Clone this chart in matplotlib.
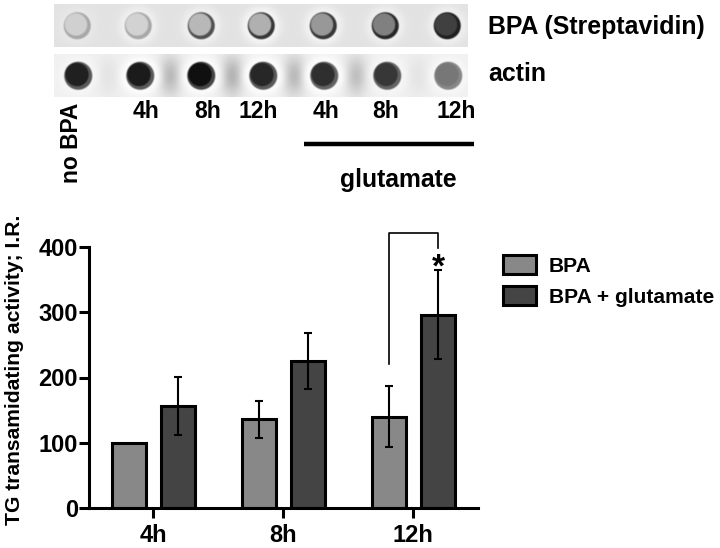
import numpy as np
import matplotlib
matplotlib.use('Agg')
import matplotlib.pyplot as plt
from matplotlib.patches import Patch

plt.rcParams['font.family'] = ['Liberation Sans', 'DejaVu Sans']
plt.rcParams['font.weight'] = 'bold'

groups = ['4h', '8h', '12h']
tick_pos = [1, 2, 3]
bpa = [100, 137, 140]
bpa_low = [100, 108, 94]
bpa_high = [100, 164, 187]
glu = [157, 226, 296]
glu_low = [112, 183, 229]
glu_high = [201, 268, 364]
yticks = [0, 100, 200, 300, 400]

# blot dots (grey levels)
top_x = [77, 138, 201, 261, 323, 385, 447]
top_fill = [208, 210, 184, 176, 152, 128, 64]
top_ring = [168, 168, 80, 56, 56, 40, 32]
top_halo = [0.2, 0.5, 0.5, 0.7, 0.6, 0.5, 0.5]
act_x = [78, 140, 201, 263, 324, 387, 448]
act_fill = [32, 28, 16, 40, 48, 56, 120]
act_ring = [90, 90, 70, 90, 100, 100, 136]
act_halo = [0.5, 1.0, 0.9, 1.0, 1.0, 0.5, 0.6]
act_smudge_x = [108, 170, 232, 294, 356, 418]
act_smudge = [0.1, 0.45, 0.5, 0.45, 0.4, 0.1]
lane_labels = ['4h', '8h', '12h', '4h', '8h', '12h']
lane_x = [146, 208, 258, 326, 386, 456]


def blot(x0, x1, y0, y1, bg, xs, fills, rings, halos, radius, smudge_x=(), smudge=()):
    gx, gy = np.meshgrid(np.arange(x0, x1, 0.5), np.arange(y0, y1, 0.5))
    img = np.full(gx.shape, float(bg))
    cy = (y0 + y1) / 2
    for sx, s in zip(smudge_x, smudge):
        w = s * np.exp(-((gx - sx) / 11.0) ** 2 - ((gy - cy) / 20.0) ** 2)
        img = img * (1 - w) + 120 * w
    for x, f, r, h in zip(xs, fills, rings, halos):
        d = np.hypot(gx - x, gy - cy)
        w = h * np.exp(-(np.clip(d - radius, 0, None) / 7.0) ** 2)
        img = img * (1 - w) + 252 * w
        inside = np.clip((radius - d) / 1.5 + 0.5, 0, 1)
        img = img * (1 - inside) + r * inside
        # dark rim is heavier on the right and bottom
        rim = 2.5 + 1.5 * ((gx - x) + (gy - cy)) / radius
        core = np.clip((radius - rim - d) / 1.5 + 0.5, 0, 1)
        img = img * (1 - core) + f * core
    return img


fig = plt.figure(figsize=(7.2, 5.48), dpi=100)
W, H = 720.0, 548.0

# bar chart
ax = fig.add_axes([89 / W, 1 - 508 / H, (478 - 89) / W, (508 - 247) / H])
pos = np.array(tick_pos, dtype=float)
ax.bar(pos - 0.185, bpa, 0.26, color='#888888', edgecolor='black', linewidth=2.2)
ax.bar(pos + 0.19, glu, 0.26, color='#444444', edgecolor='black', linewidth=2.2)
ax.errorbar(pos[1:] - 0.185, bpa[1:],
            yerr=[np.array(bpa[1:]) - bpa_low[1:], np.array(bpa_high[1:]) - bpa[1:]],
            fmt='none', ecolor='black', elinewidth=1.5, capsize=3.2, capthick=1.5)
ax.errorbar(pos + 0.19, glu,
            yerr=[np.array(glu) - glu_low, np.array(glu_high) - glu],
            fmt='none', ecolor='black', elinewidth=1.5, capsize=3.2, capthick=1.5)
ax.set_xlim(0.508, 3.5)
ax.set_ylim(0, 400)
ax.set_xticks(tick_pos)
ax.set_xticklabels(groups)
ax.set_yticks(yticks)
ax.tick_params(axis='both', labelsize=17, width=2.2, length=7.5)
ax.tick_params(axis='y', pad=0.5)
ax.tick_params(axis='x', pad=4)
for s in ['top', 'right']:
    ax.spines[s].set_visible(False)
for s in ['left', 'bottom']:
    ax.spines[s].set_linewidth(2.2)

# everything else placed in picture pixels
ov = fig.add_axes([0, 0, 1, 1])
ov.set_xlim(0, W)
ov.set_ylim(H, 0)
ov.axis('off')
ov.patch.set_alpha(0)

ov.imshow(blot(54, 468, 4, 47, 226, top_x, top_fill, top_ring, top_halo, 13.5),
          extent=(54, 468, 47, 4), cmap='gray', vmin=0, vmax=255, aspect='auto',
          interpolation='bilinear')
ov.imshow(blot(54, 468, 54, 97, 240, act_x, act_fill, act_ring, act_halo, 14,
               act_smudge_x, act_smudge),
          extent=(54, 468, 97, 54), cmap='gray', vmin=0, vmax=255, aspect='auto',
          interpolation='bilinear')
ov.set_xlim(0, W)
ov.set_ylim(H, 0)

ov.text(488, 27, 'BPA (Streptavidin)', fontsize=17.9, va='center', ha='left')
ov.text(488, 74, 'actin', fontsize=17.9, va='center', ha='left')
ov.text(72, 143, 'no BPA', fontsize=16.4, rotation=90, va='center', ha='center')
for x, lab in zip(lane_x, lane_labels):
    ov.text(x, 112, lab, fontsize=16.5, va='center', ha='center')
ov.plot([304, 474], [144, 144], color='black', lw=3.2, solid_capstyle='butt')
ov.text(398, 180, 'glutamate', fontsize=17.8, va='center', ha='center')
ov.text(15, 370, 'TG transamidating activity; I.R.', fontsize=15.2, rotation=90,
        va='center', ha='center')

# significance bracket
ov.plot([389, 389, 438, 438], [364, 233, 233, 248], color='black', lw=1.2)
ov.text(438, 268, '*', fontsize=24, va='center', ha='center')

handles = [Patch(facecolor='#888888', edgecolor='black', linewidth=2.2, label='BPA'),
           Patch(facecolor='#444444', edgecolor='black', linewidth=2.2, label='BPA + glutamate')]
ov.legend(handles=handles, loc='upper left', bbox_to_anchor=(503, 255),
          bbox_transform=ov.transData, frameon=False, fontsize=15.1, borderpad=0,
          borderaxespad=0, handlelength=1.57, handleheight=1.0, labelspacing=0.5,
          handletextpad=0.62)

fig.savefig('out.png', dpi=100)
